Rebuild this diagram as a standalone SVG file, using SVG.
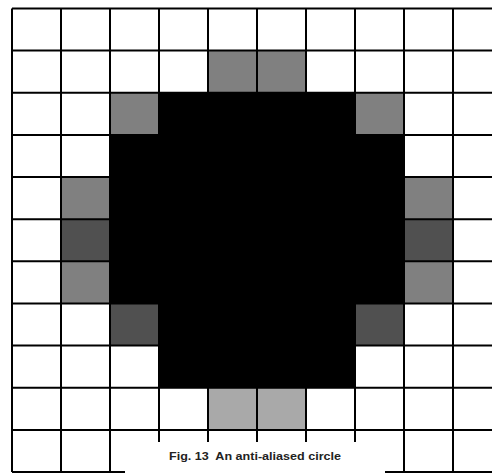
<svg xmlns="http://www.w3.org/2000/svg" width="492" height="473" viewBox="0 0 492 473">
<style>
.g{fill:#808080}.d{fill:#505050}.l{fill:#a9a9a9}.k{fill:#000}
.grid{stroke:#000;stroke-width:2;fill:none}
.cap{font-family:"Liberation Sans",Arial,sans-serif;font-weight:bold;font-size:10px;fill:#222}
</style>
<rect width="492" height="473" fill="#fff"/>
<g id="pixels">
<rect class="g" x="208" y="50.6" width="98" height="42.2"/>
<rect class="g" x="110" y="92.8" width="49" height="42.1"/>
<rect class="g" x="355" y="92.8" width="49" height="42.1"/>
<rect class="k" x="159" y="92.8" width="196" height="42.1"/>
<rect class="k" x="110" y="134.9" width="294" height="168.6"/>
<rect class="g" x="61" y="177.1" width="49" height="42.1"/>
<rect class="g" x="404" y="177.1" width="49" height="42.1"/>
<rect class="d" x="61" y="219.2" width="49" height="42.1"/>
<rect class="d" x="404" y="219.2" width="49" height="42.1"/>
<rect class="g" x="61" y="261.3" width="49" height="42.2"/>
<rect class="g" x="404" y="261.3" width="49" height="42.2"/>
<rect class="d" x="110" y="303.5" width="49" height="42.1"/>
<rect class="d" x="355" y="303.5" width="49" height="42.1"/>
<rect class="k" x="159" y="303.5" width="196" height="84.3"/>
<rect class="l" x="208" y="387.8" width="98" height="42.1"/>
</g>
<g id="grid" class="grid">
<path d="M12 8.5V472M61 8.5V472M110 8.5V472M159 8.5V472M208 8.5V472M257 8.5V472M306 8.5V472M355 8.5V472M404 8.5V472M453 8.5V472"/>
<path d="M12 8.5H492M12 50.6H492M12 92.8H492M12 134.9H492M12 177.1H492M12 219.2H492M12 261.3H492M12 303.5H492M12 345.6H492M12 387.8H492M12 429.9H492M12 472H492"/>
</g>
<g id="caption">
<rect x="125" y="442" width="260" height="31" fill="#fff"/>
<text class="cap" x="255" y="460" text-anchor="middle" textLength="172" lengthAdjust="spacingAndGlyphs" xml:space="preserve">Fig. 13  An anti-aliased circle</text>
</g>
</svg>
